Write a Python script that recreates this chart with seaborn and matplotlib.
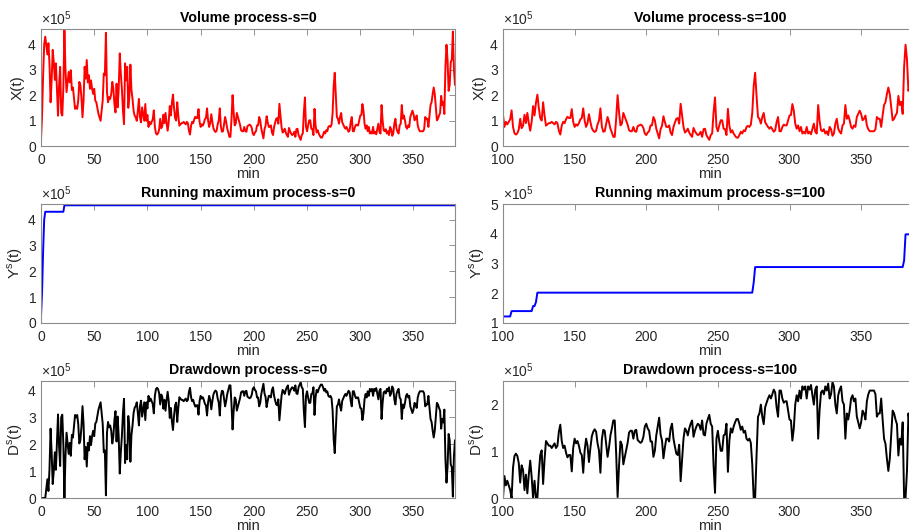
import numpy as np
import pandas as pd
import seaborn as sns
import matplotlib.pyplot as plt
from matplotlib import ticker

# Volume per minute (units of 1e5)
vol_000 = [0.26, 1.2, 2.8, 4.0, 4.3, 3.95, 3.6, 4.04, 3.2, 1.72,
           2.6, 3.78, 3.3, 2.6, 3.25, 2.2, 1.19, 2.4, 3.11, 1.3,
           1.2, 2.3, 4.55, 3.0, 2.12, 2.5, 2.91, 2.5, 2.98, 2.2,
           2.3, 1.9, 1.46, 1.55, 1.46, 1.8, 2.52, 2.4, 1.9, 1.13,
           1.8, 3.11, 2.65, 3.38, 2.5, 2.78, 2.25, 2.58, 2.25, 2.05,
           2.25, 1.78, 1.72, 1.5, 1.26, 1.13, 0.99, 1.39, 1.8, 2.85,
           2.78, 4.45, 2.12, 1.72, 1.92, 1.85, 2.05, 2.52, 2.25, 1.65,
           1.32, 2.45, 1.52, 2.25, 3.64, 2.85, 2.25, 1.39, 0.86, 3.25,
           2.58, 3.11, 1.5, 1.92, 3.2, 2.2, 1.85, 1.39, 1.19, 1.13,
           0.99, 1.39, 1.85, 1.13, 0.93, 1.52, 1.26, 0.99, 1.65, 0.99]
vol_100 = [1.22, 0.75, 0.95, 0.85, 0.95, 1.05, 1.40, 0.75, 0.50, 0.45,
           0.50, 0.65, 1.07, 0.70, 0.80, 1.23, 0.90, 1.30, 0.90, 0.60,
           0.95, 1.57, 1.20, 1.70, 2.02, 1.50, 1.10, 1.00, 1.72, 1.20,
           0.80, 0.85, 0.90, 0.90, 0.95, 0.90, 0.85, 0.95, 0.90, 0.60,
           0.45, 0.80, 0.95, 0.90, 1.05, 1.15, 1.10, 1.10, 1.45, 0.95,
           0.75, 0.85, 0.80, 0.90, 1.05, 1.10, 1.48, 1.00, 0.75, 0.90,
           1.25, 0.95, 0.70, 0.60, 0.55, 0.60, 0.85, 1.00, 1.48, 0.77,
           0.56, 0.58, 0.87, 1.14, 0.94, 0.68, 0.53, 0.36, 0.36, 1.07,
           2.00, 1.33, 0.81, 0.88, 1.30, 1.15, 1.01, 0.84, 0.62, 0.58,
           0.58, 0.75, 0.58, 0.56, 0.78, 0.81, 0.84, 0.81, 0.71, 0.49]
vol_200 = [0.43, 0.53, 0.58, 0.81, 0.81, 1.14, 1.01, 0.68, 0.49, 0.30,
           0.66, 0.79, 1.17, 0.94, 0.75, 0.75, 0.81, 0.53, 0.43, 0.75,
           0.92, 1.07, 1.10, 0.88, 1.66, 1.20, 0.75, 0.53, 0.58, 0.68,
           0.53, 0.43, 0.36, 0.71, 0.58, 0.49, 0.43, 0.46, 0.56, 0.36,
           0.66, 0.68, 0.43, 0.33, 0.24, 0.43, 0.49, 1.33, 1.91, 0.75,
           0.58, 0.81, 1.01, 1.01, 0.68, 0.66, 0.43, 1.46, 0.80, 0.53,
           0.62, 0.49, 0.40, 0.33, 0.33, 0.43, 0.56, 0.49, 0.62, 0.58,
           0.75, 0.79, 0.75, 0.84, 1.30, 2.36, 2.88, 1.97, 1.14, 1.07,
           0.88, 1.14, 1.30, 0.94, 0.84, 0.75, 0.68, 0.75, 0.66, 0.56,
           0.62, 0.94, 1.14, 0.58, 0.58, 0.75, 0.84, 0.81, 0.81, 1.01]
vol_300 = [1.20, 1.22, 1.65, 1.39, 0.88, 0.68, 0.81, 0.58, 0.75, 0.49,
           0.56, 0.49, 0.75, 0.49, 0.56, 0.46, 0.68, 0.88, 0.56, 0.49,
           1.61, 1.00, 0.62, 0.58, 0.66, 0.49, 0.58, 0.43, 0.75, 0.66,
           0.40, 0.49, 0.88, 1.07, 0.68, 0.56, 0.49, 0.81, 0.88, 1.61,
           1.07, 1.20, 1.01, 0.75, 0.68, 0.81, 0.75, 1.14, 1.26, 1.39,
           1.26, 1.01, 1.07, 1.20, 0.81, 0.66, 0.58, 0.58, 0.58, 0.58,
           0.66, 1.14, 1.07, 1.07, 0.75, 1.20, 1.61, 1.72, 2.04, 2.30,
           2.04, 1.52, 1.01, 1.07, 1.20, 1.30, 1.97, 1.61, 1.74, 1.26,
           3.10, 3.98, 3.40, 2.17, 2.40, 3.30, 3.40, 4.50, 3.00, 2.40]

volume = np.concatenate([vol_000, vol_100, vol_200, vol_300]) * 1e5
minutes = np.arange(len(volume))

df0 = pd.DataFrame({'min': minutes, 'X': volume})
df0['Y'] = df0['X'].cummax()
df0['D'] = df0['Y'] - df0['X']

df100 = df0[df0['min'] >= 100][['min', 'X']].copy()
df100['Y'] = df100['X'].cummax()
df100['D'] = df100['Y'] - df100['X']

sns.set_theme(style='white')
plt.rcParams['font.family'] = ['Liberation Sans', 'DejaVu Sans']
plt.rcParams['mathtext.fontset'] = 'custom'
plt.rcParams['mathtext.rm'] = 'Liberation Sans'

W, H = 909, 532
fig = plt.figure(figsize=(W / 100, H / 100), dpi=100)

def px_axes(left, top, bottom, width=414):
    return fig.add_axes([left / W, (H - bottom) / H, width / W, (bottom - top) / H])

xmax = minutes[-1]
top_x = 4.6e5
panels = [
    # data, column, color, title, ylabel, left, top, bottom, xlim, ylim
    (df0, 'X', 'red', 'Volume process-s=0', 'X(t)', 41, 29, 146, (0, xmax), (0, top_x)),
    (df100, 'X', 'red', 'Volume process-s=100', 'X(t)', 503, 29, 146, (100, xmax), (0, top_x)),
    (df0, 'Y', 'blue', 'Running maximum process-s=0', r'Y$^\mathregular{s}$(t)', 41, 204, 323, (0, xmax), (0, top_x)),
    (df100, 'Y', 'blue', 'Running maximum process-s=100', r'Y$^\mathregular{s}$(t)', 503, 204, 323, (100, xmax), (1e5, 5e5)),
    (df0, 'D', 'black', 'Drawdown process-s=0', r'D$^\mathregular{s}$(t)', 41, 381, 498, (0, xmax), (0, df0['D'].max() * 1.01)),
    (df100, 'D', 'black', 'Drawdown process-s=100', r'D$^\mathregular{s}$(t)', 503, 381, 498, (100, xmax), (0, df100['D'].max() * 1.01)),
]

for data, col, color, title, ylab, left, top, bottom, xlim, ylim in panels:
    ax = px_axes(left, top, bottom)
    sns.lineplot(data=data, x='min', y=col, color=color, linewidth=1.4, ax=ax)
    ax.set_xlim(*xlim)
    ax.set_ylim(*ylim)
    ax.set_xticks(np.arange(xlim[0], 351, 50))
    fmt = ticker.ScalarFormatter(useMathText=True)
    fmt.set_powerlimits((0, 0))
    ax.yaxis.set_major_formatter(fmt)
    ax.yaxis.set_major_locator(ticker.MultipleLocator(1e5))
    ax.yaxis.get_offset_text().set_fontsize(10)
    ax.yaxis.get_offset_text().set_color('#555555')
    ax.set_title(title, fontsize=10.2, fontweight='bold', pad=5, color='black')
    ax.set_xlabel('min', fontsize=10.5, labelpad=0, color='#262626')
    ax.set_ylabel(ylab, fontsize=11, labelpad=2, color='#262626')
    ax.tick_params(direction='in', top=True, right=True, length=4, width=0.6,
                   color='#808080', labelcolor='#262626', labelsize=10)
    ax.tick_params(axis='x', pad=5)
    ax.tick_params(axis='y', pad=3)
    for sp in ax.spines.values():
        sp.set_color('#8c8c8c')
        sp.set_linewidth(0.8)

fig.savefig('out.png', dpi=100)
